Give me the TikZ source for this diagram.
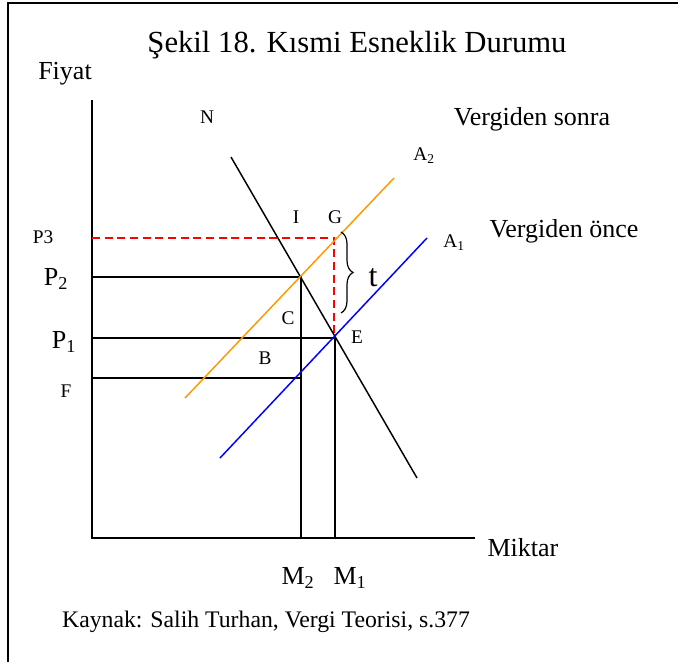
\documentclass[tikz,border=0pt]{standalone}
\usepackage{fontspec}
\setmainfont{Liberation Serif}
\usetikzlibrary{decorations.pathreplacing}
\definecolor{supplyorange}{RGB}{255,153,0}
\definecolor{supplyblue}{RGB}{0,0,255}
\definecolor{taxred}{RGB}{255,0,0}
\begin{document}
\begin{tikzpicture}[x=0.75pt,y=-0.75pt,
  axis/.style={line width=1.1pt,black},
  guide/.style={line width=1.1pt,black},
  curve/.style={line width=1.1pt},
  redash/.style={line width=1.1pt,taxred,dash pattern=on 6pt off 3.5pt},
  big/.style={inner sep=0pt,font=\fontsize{19.5}{21}\selectfont},
  small/.style={inner sep=0pt,font=\fontsize{14.5}{16}\selectfont},
  ]
\useasboundingbox (0,0) rectangle (678,662);
% frame
\coordinate (fl) at (8,662);
\coordinate (ftl) at (8,3);
\coordinate (ftr) at (678,3);
\draw[line width=1.6pt] (fl) -- (ftl) -- (ftr);
% key points
\coordinate (O) at (92,538);
\coordinate (Ytop) at (92,100);
\coordinate (Xend) at (475,538);
\coordinate (yP3) at (92,238);
\coordinate (yP2) at (92,277);
\coordinate (yP1) at (92,338);
\coordinate (yF) at (92,378);
\coordinate (Gpt) at (334,238);
\coordinate (P2pt) at (301,277);
\coordinate (Ept) at (335,338);
\coordinate (Fpt) at (301,378);
\coordinate (M2b) at (301,538);
\coordinate (M1b) at (335,538);
\coordinate (Ns) at (231,157);
\coordinate (Ne) at (417,478);
\coordinate (A2s) at (185,398);
\coordinate (A2e) at (394,178);
\coordinate (A1s) at (220,458);
\coordinate (A1e) at (427,238);
\coordinate (Btop) at (341,232);
\coordinate (Bbot) at (341,313);
% axes
\draw[axis] (Ytop) -- (O) -- (Xend);
% dashed red
\draw[redash] (yP3) -- (Gpt) -- (Gpt |- Ept);
% guides
\draw[guide] (yP2) -- (P2pt) -- (M2b);
\draw[guide] (yP1) -- (Ept) -- (M1b);
\draw[guide] (yF) -- (Fpt);
% curves
\draw[curve,black] (Ns) -- (Ne);
\draw[curve,supplyorange] (A2s) -- (A2e);
\draw[curve,supplyblue] (A1s) -- (A1e);
% brace
\draw[line width=0.9pt,decorate,decoration={brace,amplitude=9pt}] (Btop) -- (Bbot);
% texts
\node[inner sep=0pt,font=\fontsize{23}{25}\selectfont] (title) at (357,45) {Şekil 18. Kısmi Esneklik Durumu};
\node[big] (fiyat) at (65,74) {Fiyat};
\node[small] (lN) at (207,117) {N};
\node[big] (vs) at (532,119) {Vergiden sonra};
\node[small] (lA2) at (424,156) {A\textsubscript{2}};
\node[big] (vo) at (564,231) {Vergiden önce};
\node[small] (lA1) at (454,243) {A\textsubscript{1}};
\node[small] (lP3) at (43,237) {P3};
\node[big] (lP2) at (56,279) {P\textsubscript{2}};
\node[big] (lP1) at (64,342) {P\textsubscript{1}};
\node[small] (lF) at (66,391) {F};
\node[small] (lI) at (296,217) {I};
\node[small] (lG) at (335,217) {G};
\node[small] (lC) at (288,318) {C};
\node[small] (lE) at (357,337) {E};
\node[small] (lB) at (265,358) {B};
\node[inner sep=0pt,font=\fontsize{24}{26}\selectfont] (lt) at (373,278) {t};
\node[big] (miktar) at (523,548) {Miktar};
\node[big] (lM2) at (298,578) {M\textsubscript{2}};
\node[big] (lM1) at (350,578) {M\textsubscript{1}};
\node[inner sep=0pt,font=\fontsize{17.8}{19}\selectfont] (src) at (266,622) {Kaynak: Salih Turhan, Vergi Teorisi, s.377};
\end{tikzpicture}
\end{document}
